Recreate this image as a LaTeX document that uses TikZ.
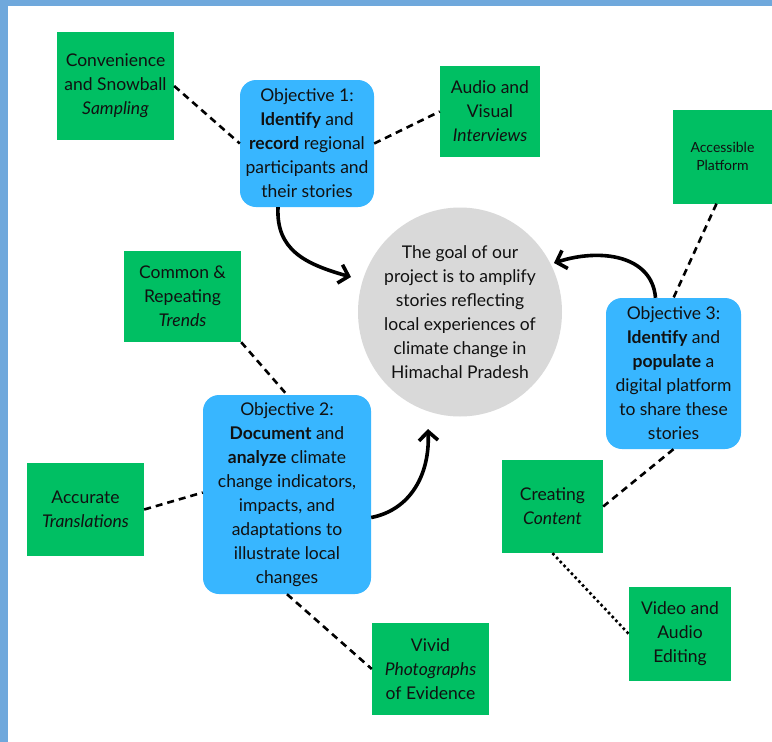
\documentclass[tikz,border=0pt]{standalone}
\usepackage{fontspec}
\setmainfont{Lato}
\usetikzlibrary{arrows.meta,shapes.geometric}
\definecolor{boxgreen}{HTML}{00BF63}
\definecolor{objblue}{HTML}{38B6FF}
\definecolor{goalgray}{HTML}{D9D9D9}
\definecolor{frameblue}{HTML}{6FA8DC}
\definecolor{inkc}{HTML}{111111}
\begin{document}
\begin{tikzpicture}[x=1pt,y=-1pt,
  txt/.style={align=center, text=inkc, font=\fontsize{17.5}{24}\selectfont, inner sep=0pt},
  greenbox/.style={txt, fill=boxgreen},
  objbox/.style={txt, fill=objblue, rounded corners=16pt},
  dashlink/.style={draw=black, line width=2.6pt, dash pattern=on 7pt off 5pt},
  dotlink/.style={draw=black, line width=2.6pt, dash pattern=on 2.6pt off 2.8pt},
  bigarrow/.style={draw=black, line width=3.6pt, -{Straight Barb[length=9pt,width=19pt,line width=3.6pt]}}
]
\useasboundingbox (0,0) rectangle (772,742);
\fill[white] (0,0) rectangle (772,742);
\fill[frameblue] (0,0) rectangle (8,742);
\fill[frameblue] (0,0) rectangle (772,6);

% goal
\node[ellipse, fill=goalgray, txt, inner sep=-20pt, minimum width=204pt, minimum height=209pt] (goal) at (460,312)
  {The goal of our\\project is to amplify\\stories reflecting\\local experiences of\\climate change in\\Himachal Pradesh};

% objectives
\node[objbox, minimum width=134pt, minimum height=127pt] (obj1) at (307,143.5)
  {Objective 1:\\\textbf{Identify} and\\\textbf{record} regional\\participants and\\their stories};
\node[objbox, minimum width=168pt, minimum height=199pt] (obj2) at (287,494.5)
  {Objective 2:\\\textbf{Document} and\\\textbf{analyze} climate\\change indicators,\\impacts, and\\adaptations to\\illustrate local\\changes};
\node[objbox, minimum width=135pt, minimum height=151pt] (obj3) at (673.5,373.5)
  {Objective 3:\\\textbf{Identify} and\\\textbf{populate} a\\digital platform\\to share these\\stories};

% green boxes
\node[greenbox, minimum width=117pt, minimum height=108pt] (conv) at (115.5,86)
  {Convenience\\and Snowball\\\textit{Sampling}};
\node[greenbox, minimum width=100pt, minimum height=91pt] (audio) at (490,111.5)
  {Audio and\\Visual\\\textit{Interviews}};
\node[greenbox, minimum width=99pt, minimum height=94pt, font=\fontsize{14}{18}\selectfont] (access) at (722.5,156.5)
  {Accessible\\Platform};
\node[greenbox, minimum width=117pt, minimum height=91pt] (common) at (182.5,296.5)
  {Common \&\\Repeating\\\textit{Trends}};
\node[greenbox, minimum width=117pt, minimum height=93pt] (accur) at (85.5,509.5)
  {Accurate\\\textit{Translations}};
\node[greenbox, minimum width=101pt, minimum height=93pt] (create) at (552.5,506.5)
  {Creating\\\textit{Content}};
\node[greenbox, minimum width=102pt, minimum height=94pt] (video) at (680,634)
  {Video and\\Audio\\Editing};
\node[greenbox, minimum width=117pt, minimum height=92pt] (vivid) at (430.5,669)
  {Vivid\\\textit{Photographs}\\of Evidence};

% dashed links
\draw[dashlink] (conv.east) -- (obj1.west);
\draw[dashlink] (obj1.east) -- (audio.west);
\draw[dashlink] ([xshift=-6pt]access.south) -- (obj3.north);
\draw[dashlink] (common.south east) -- (obj2.north);
\draw[dashlink] (accur.east) -- ([yshift=2pt]obj2.west);
\draw[dashlink] (obj2.south) -- (vivid.west);
\draw[dashlink] (obj3.south) -- (create.east);
\draw[dotlink] (create.south) -- (video.west);

% arrows
\coordinate (a1s) at ([xshift=-29pt]obj1.south);
\coordinate (a1e) at (351,277);
\draw[bigarrow] (a1s) .. controls (276,250) and (305,264) .. (a1e);
\coordinate (a3s) at ([xshift=-18pt]obj3.north);
\coordinate (a3e) at (554,263);
\draw[bigarrow] (a3s) .. controls (652,255) and (600,248) .. (a3e);
\coordinate (a2s) at ([yshift=-23pt]obj2.east);
\coordinate (a2e) at (428,429);
\draw[bigarrow] (a2s) .. controls (410,510) and (430,475) .. (a2e);
\end{tikzpicture}
\end{document}
